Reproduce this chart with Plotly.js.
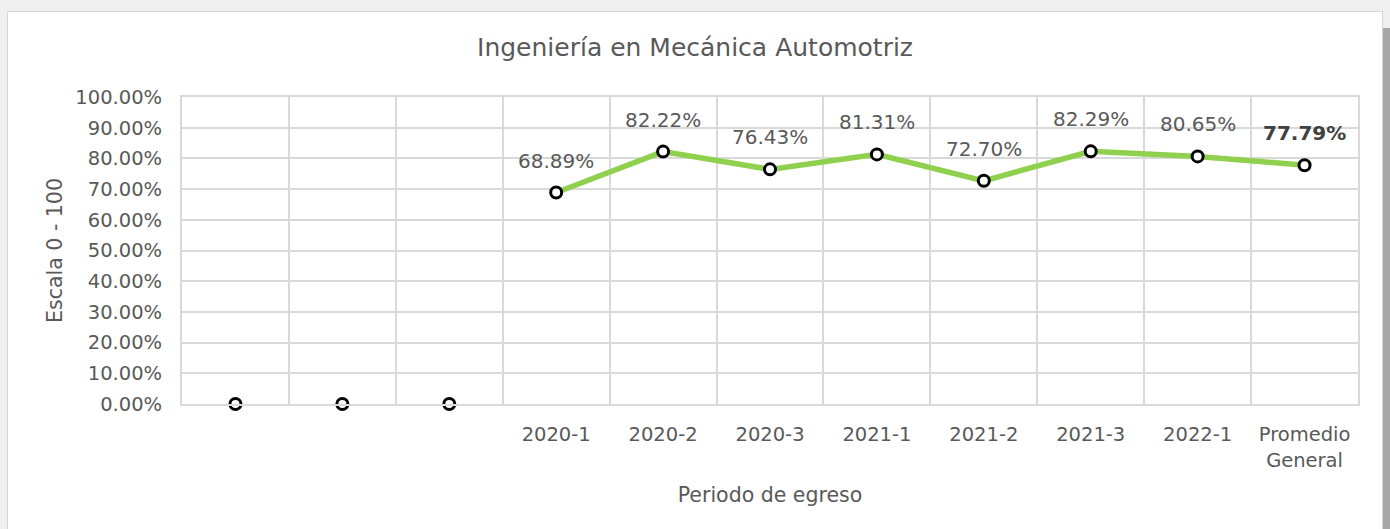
<!DOCTYPE html>
<html>
<head>
<meta charset="utf-8">
<script src="https://cdn.plot.ly/plotly-3.0.1.min.js"></script>
<style>
  html, body { margin: 0; padding: 0; width: 1390px; height: 529px; overflow: hidden; background: #f0f0f0; }
  #frame { position: absolute; left: 7px; top: 11px; width: 1374px; height: 520px; background: #ffffff; border: 1px solid #d6d6d6; }
  #strip { position: absolute; left: 1383px; top: 28px; width: 7px; height: 501px; background: #a6a6a6; }
  #chart { width: 1374px; height: 518px; }
</style>
</head>
<body>
<div id="strip"></div>
<div id="frame"><div id="chart"></div></div>
<script>
const categorias = ["", "", "", "2020-1", "2020-2", "2020-3", "2021-1", "2021-2", "2021-3", "2022-1", "Promedio<br>General"];
const valores = [0, 0, 0, 68.89, 82.22, 76.43, 81.31, 72.70, 82.29, 80.65, 77.79];
const periodosSinDatos = 3;

const posiciones = categorias.map((c, i) => i);
const linea = valores.map((v, i) => (i < periodosSinDatos ? null : v));
const limites = [];
for (let i = 0; i <= categorias.length; i++) limites.push(i - 0.5);

const font = "DejaVu Sans, Verdana, sans-serif";

const anotaciones = valores.map((v, i) => {
  if (i < periodosSinDatos) return null;
  const ultimo = i === valores.length - 1;
  const t = v.toFixed(2) + "%";
  return {
    x: posiciones[i], y: v, xref: "x", yref: "y",
    text: ultimo ? "<b>" + t + "</b>" : t,
    showarrow: false, xanchor: "center", yanchor: "bottom", yshift: 18,
    font: { family: font, size: 20, color: ultimo ? "#404040" : "#595959" }
  };
}).filter(a => a);

const traces = [
  {
    x: posiciones, y: linea, type: "scatter", mode: "lines",
    line: { color: "#8fd14f", width: 5.5 },
    cliponaxis: false, hoverinfo: "skip", showlegend: false
  },
  {
    x: posiciones, y: valores, type: "scatter", mode: "markers",
    marker: { symbol: "circle", size: 11, color: "#ffffff", line: { color: "#000000", width: 3 } },
    cliponaxis: false, showlegend: false
  }
];

const layout = {
  width: 1374, height: 518,
  margin: { l: 174, r: 24, t: 85, b: 126 },
  paper_bgcolor: "#ffffff", plot_bgcolor: "#ffffff",
  font: { family: font, color: "#595959", size: 20 },
  title: { text: "Ingeniería en Mecánica Automotriz", x: 0.5, xanchor: "center", y: 0.932, yanchor: "middle",
           font: { family: font, size: 25, color: "#595959" } },
  annotations: anotaciones,
  xaxis: {
    range: [-0.5, categorias.length - 0.5],
    tickmode: "array", tickvals: posiciones, ticktext: categorias,
    showgrid: false, zeroline: false,
    showline: true, linecolor: "#d9d9d9", linewidth: 2, mirror: true,
    ticks: "", ticklabelstandoff: 12,
    tickfont: { family: font, size: 19.5, color: "#595959" },
    minor: { tickmode: "array", tickvals: limites, showgrid: true, gridcolor: "#d9d9d9", gridwidth: 2, ticks: "" },
    title: { text: "Periodo de egreso", standoff: 17, font: { family: font, size: 20.5, color: "#595959" } }
  },
  yaxis: {
    range: [0, 100], dtick: 10, tick0: 0,
    tickformat: ".2f", ticksuffix: "%",
    showgrid: true, gridcolor: "#d9d9d9", gridwidth: 2,
    zeroline: false,
    showline: true, linecolor: "#d9d9d9", linewidth: 2, mirror: true,
    ticks: "", ticklabelstandoff: 14,
    tickfont: { family: font, size: 19.5, color: "#595959" },
    title: { text: "Escala 0 - 100", standoff: 7, font: { family: font, size: 20.5, color: "#595959" } }
  }
};

Plotly.newPlot("chart", traces, layout, { displayModeBar: false, staticPlot: true });
</script>
</body>
</html>
